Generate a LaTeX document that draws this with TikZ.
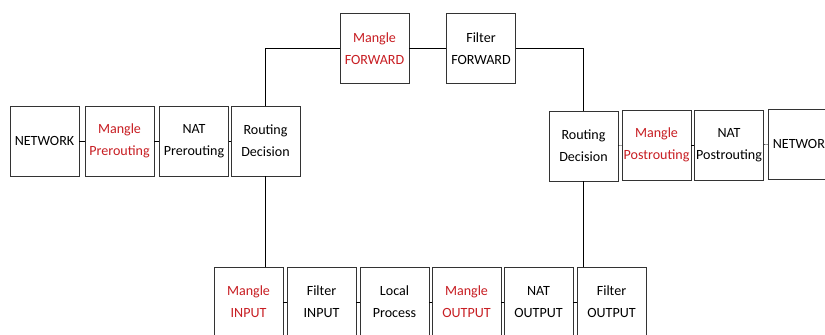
\documentclass[tikz,border=0pt]{standalone}
\usepackage{fontspec}
\setmainfont{Carlito}
\usepackage{tikz}

\definecolor{mangle}{RGB}{200,30,35}

\begin{document}
\begin{tikzpicture}[x=0.03cm, y=-0.03cm,
    box/.style={draw=black!80, line width=0.7pt, fill=white, align=center,
      minimum width=2.07cm, minimum height=2.1cm, inner sep=1pt,
      font=\fontsize{12}{19}\selectfont},
    red/.style={box, text=mangle}]
    \useasboundingbox (0,0) rectangle (825,334);
    \clip (0,0) rectangle (825,334);

    % Nodes
    \node[box](NetIn) at (44.5, 141) {NETWORK};
    \node[red](MPre) at (119.5, 141) {Mangle\\Prerouting};
    \node[box](NPre) at (194, 141) {NAT\\Prerouting};
    \node[box](RD1) at (265.5, 141) {Routing\\Decision};

    \node[red](MFwd) at (374.5, 48.5) {Mangle\\FORWARD};
    \node[box](FFwd) at (481, 48.5) {Filter\\FORWARD};

    \node[box](RD2) at (583.5, 146) {Routing\\Decision};
    \node[red](MPost) at (656.5, 145) {Mangle\\Postrouting};
    \node[box](NPost) at (729, 145) {NAT\\Postrouting};
    \node[box](NetOut) at (802.5, 144) {NETWORK};

    \node[red](MIn) at (248.5, 302) {Mangle\\INPUT};
    \node[box](FIn) at (321.5, 302) {Filter\\INPUT};
    \node[box](LP) at (394.5, 302) {Local\\Process};
    \node[red](MOut) at (466.5, 302) {Mangle\\OUTPUT};
    \node[box](NOut) at (538.5, 302) {NAT\\OUTPUT};
    \node[box](FOut) at (611.5, 302) {Filter\\OUTPUT};

    % Lines
    \draw (NetIn) -- (MPre);
    \draw (MPre) -- (NPre);
    \draw (NPre) -- (RD1);
    \draw (RD1.north) |- (MFwd.west);
    \draw (MFwd) -- (FFwd);
    \draw (FFwd.east) -| (RD2.north);
    \draw (RD2) -- (MPost);
    \draw (MPost) -- (NPost);
    \draw (NPost) -- (NetOut);

    \draw (RD1.south) -- (RD1.south |- MIn.north);
    \draw (MIn) -- (FIn);
    \draw (FIn) -- (LP);
    \draw (LP) -- (MOut);
    \draw (MOut) -- (NOut);
    \draw (NOut) -- (FOut);
    \draw (RD2.south) -- (RD2.south |- FOut.north);
  \end{tikzpicture}
\end{document}
